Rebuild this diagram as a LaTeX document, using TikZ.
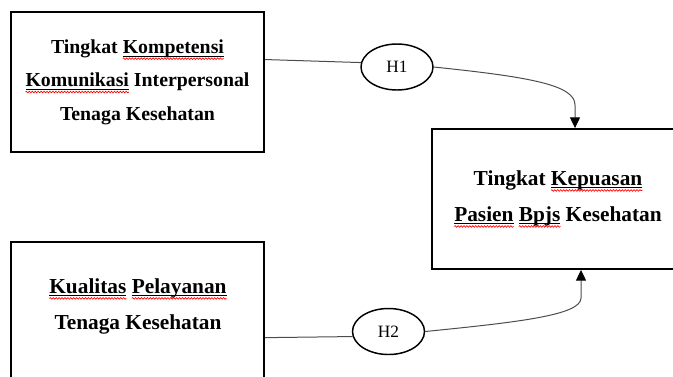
\documentclass[tikz,border=0pt]{standalone}
\usepackage{fontspec}
\setmainfont{Liberation Serif}
\usetikzlibrary{shapes.geometric, arrows.meta, positioning, decorations.pathmorphing}

% word with the black line and the red wave under it
\newlength\spellwd
\newcommand\spellmark[1]{%
  \settowidth\spellwd{#1}%
  \rlap{\rule[-2.4pt]{\spellwd}{0.7pt}}%
  \rlap{\tikz[overlay]\draw[red, line width=0.5pt, decorate, decoration={snake, amplitude=0.6pt, segment length=2.2pt}] (0pt,-4pt) -- (\spellwd,-4pt);}%
  #1}

\tikzset{
  model/.style={
	x=0.75pt, y=-0.75pt, % one unit is one pixel, y runs downwards
	>={Triangle[width=7.5pt,length=8pt,color=black]}, % filled black arrow heads
  },
  varbox/.style={draw, line width=1.4pt, minimum width=189.75pt, minimum height=105pt, inner sep=0pt}, % 253 x 140 px
  vartext/.style={align=center, font=\bfseries\fontsize{16}{27}\selectfont},
  hyp/.style={ellipse, draw, line width=1.1pt, minimum width=54pt, minimum height=34.5pt, inner sep=0pt, font=\fontsize{13}{15}\selectfont},
  plain/.style={draw=black!70, line width=0.75pt},
  link/.style={->, plain},
}

\begin{document}
\begin{tikzpicture}[model]
\useasboundingbox (0,0) rectangle (673,376);
\clip (0,0) rectangle (673,376);

\node[varbox] (b1) at (137.5,82) {};
\node[varbox, minimum width=210pt] (b2) at (572,199) {};
\node[varbox, minimum height=120pt] (b3) at (137.5,322) {};

\node[vartext, font=\bfseries\fontsize{14.85}{25}\selectfont] (t1) at (b1) {Tingkat \spellmark{Kompetensi}\\ \spellmark{Komunikasi} Interpersonal\\ Tenaga Kesehatan};
\node[vartext] (t2) at (558,198) {Tingkat \spellmark{Kepuasan}\\ \spellmark{Pasien} \spellmark{Bpjs} Kesehatan};
\node[vartext] (t3) at (138,306) {\spellmark{Kualitas} \spellmark{Pelayanan}\\ Tenaga Kesehatan};

\node[hyp] (h1) at (397,67) {H1};
\node[hyp] (h2) at (388.5,331.5) {H2};

\draw[plain] (b1.10) -- (h1.173);
\draw[link] (h1.east) .. controls (530,77) and (575,85) .. (575,105) -- (575,129 |- b2.north);
\draw[plain] (b3.-7) -- (h2.188);
\draw[link] (h2.east) .. controls (520,322) and (581,315) .. (581,298) -- (581,269 |- b2.south);
\end{tikzpicture}
\end{document}
